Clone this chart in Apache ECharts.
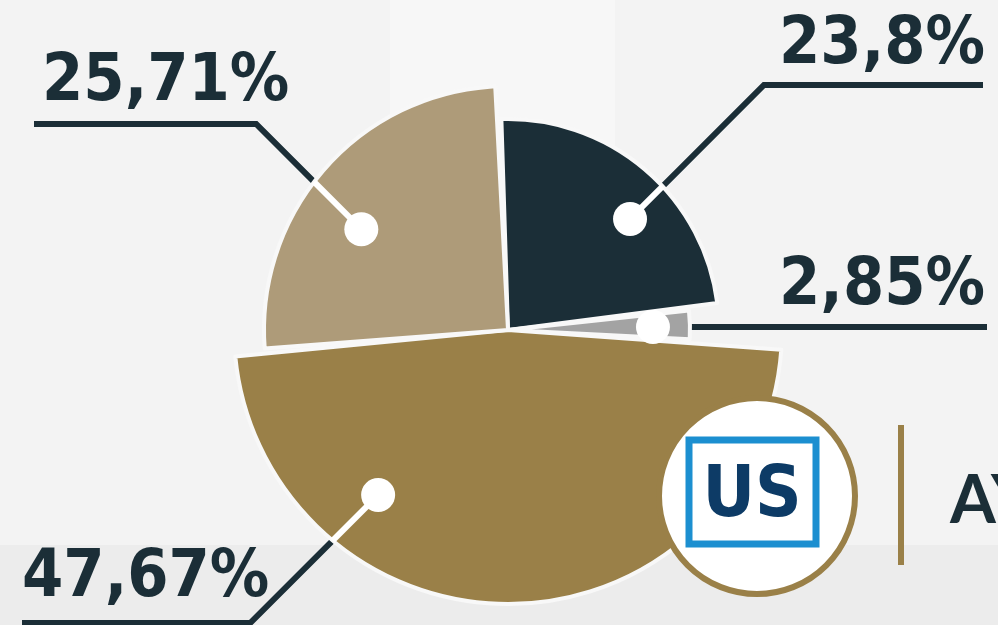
<!DOCTYPE html>
<html>
<head>
<meta charset="utf-8">
<script src="https://cdn.jsdelivr.net/npm/echarts@6/dist/echarts.min.js"></script>
<style>
  html, body { margin: 0; padding: 0; background: #f3f3f3; }
  #chart { width: 998px; height: 625px; }
</style>
</head>
<body>
<div id="chart"></div>
<script>
// shares, clockwise from the top
const groupNames = ["Grupo 1", "Grupo 2", "Grupo 3", "Grupo 4"];
const shareValues = [23.8, 2.85, 47.67, 25.71];

const center = [508, 330];
const ink = "#1b2e37";
const gold = "#9a8048";

// per slice: colour, radius, where the white dot sits, where the leader goes
const sliceStyle = [
  { color: "#1b2e37", r: 211, dotAngle: 47.7, dotDist: 165, lineY: 85, lineEnd: 983, textX: 985, textY: 46, align: "right", innerLine: true },
  { color: "#a3a3a3", r: 182, dotAngle: 88.8, dotDist: 145, lineY: 327, lineEnd: 987, textX: 985, textY: 287, align: "right", innerLine: false },
  { color: "#9a8048", r: 274, dotAngle: 218.2, dotDist: 210, lineY: 623, lineEnd: 22, textX: 22, textY: 579, align: "left", innerLine: true },
  { color: "#ae9b79", r: 244, dotAngle: 304.5, dotDist: 178, lineY: 124, lineEnd: 34, textX: 42, textY: 83, align: "left", innerLine: true },
];

// dot -> 45deg -> horizontal, split where it leaves the slice
function leader(i) {
  const s = sliceStyle[i];
  const a = (s.dotAngle * Math.PI) / 180;
  const dot = [center[0] + s.dotDist * Math.sin(a), center[1] - s.dotDist * Math.cos(a)];
  const sx = dot[0] < center[0] ? -1 : 1;
  const elbow = [dot[0] + sx * Math.abs(s.lineY - dot[1]), s.lineY];
  const end = [s.lineEnd, s.lineY];
  const pts = [dot, elbow, end];
  for (let k = 0; k < 2; k++) {
    const p = pts[k], q = pts[k + 1];
    const dx = q[0] - p[0], dy = q[1] - p[1];
    const A = dx * dx + dy * dy;
    if (A < 1e-6) continue;
    const fx = p[0] - center[0], fy = p[1] - center[1];
    const B = 2 * (fx * dx + fy * dy);
    const C = fx * fx + fy * fy - s.r * s.r;
    const t = (-B + Math.sqrt(B * B - 4 * A * C)) / (2 * A);
    if (t >= 0 && t <= 1) {
      const edge = [p[0] + t * dx, p[1] + t * dy];
      return {
        dot: dot,
        inner: pts.slice(0, k + 1).concat([edge]),
        outer: [edge].concat(pts.slice(k + 1)),
      };
    }
  }
  return { dot: dot, inner: [dot], outer: pts };
}

const series = sliceStyle.map(function (s, i) {
  return {
    type: "pie",
    center: center,
    radius: [0, s.r],
    startAngle: 92.4,
    padAngle: 1.2,
    silent: true,
    animation: false,
    avoidLabelOverlap: false,
    label: {
      position: "outside",
      formatter: function (p) {
        return String(p.value).replace(".", ",") + "%";
      },
      color: ink,
      fontSize: 66,
      fontWeight: "bold",
      fontFamily: "'DejaVu Sans Condensed', 'DejaVu Sans', sans-serif",
    },
    labelLine: { show: true, lineStyle: { color: ink, width: 6 } },
    labelLayout: function (params) {
      if (params.dataIndex !== i) return {};
      return {
        x: s.textX,
        y: s.textY,
        align: s.align,
        verticalAlign: "middle",
        labelLinePoints: leader(i).outer,
      };
    },
    data: shareValues.map(function (v, j) {
      return {
        name: groupNames[j],
        value: v,
        itemStyle: j === i
          ? { color: s.color, borderColor: "#f8f8f8", borderWidth: 4 }
          : { color: "rgba(0,0,0,0)", borderWidth: 0 },
        label: { show: j === i },
        labelLine: { show: j === i },
      };
    }),
  };
});

const graphics = [
  { type: "rect", z: -10, shape: { x: 390, y: 0, width: 225, height: 545 }, style: { fill: "#f7f7f7" } },
  { type: "rect", z: -10, shape: { x: 0, y: 545, width: 998, height: 80 }, style: { fill: "#ececec" } },
];
sliceStyle.forEach(function (s, i) {
  const l = leader(i);
  if (s.innerLine) {
    graphics.push({
      type: "polyline", z: 100,
      shape: { points: l.inner },
      style: { stroke: "#ffffff", lineWidth: 6, fill: null },
    });
  }
  graphics.push({
    type: "circle", z: 101,
    shape: { cx: l.dot[0], cy: l.dot[1], r: 17 },
    style: { fill: "#ffffff" },
  });
});

// logo badge and side text
graphics.push(
  { type: "circle", z: 110, shape: { cx: 757, cy: 496, r: 98 }, style: { fill: "#ffffff", stroke: gold, lineWidth: 6 } },
  { type: "rect", z: 111, shape: { x: 689, y: 440, width: 127, height: 104 }, style: { fill: null, stroke: "#1c8fd0", lineWidth: 7 } },
  { type: "text", z: 112, style: { x: 752, y: 497, text: "US", fill: "#0d3b66", font: "bold 72px 'DejaVu Sans Condensed', 'DejaVu Sans'", align: "center", verticalAlign: "middle" } },
  { type: "rect", z: 110, shape: { x: 898, y: 425, width: 6, height: 140 }, style: { fill: gold } },
  { type: "text", z: 110, style: { x: 950, y: 502, text: "AY", fill: ink, font: "bold 66px 'Lato'", verticalAlign: "middle" } }
);

const chart = echarts.init(document.getElementById("chart"));
chart.setOption({
  backgroundColor: "#f3f3f3",
  animation: false,
  graphic: { elements: graphics },
  series: series,
});
</script>
</body>
</html>
